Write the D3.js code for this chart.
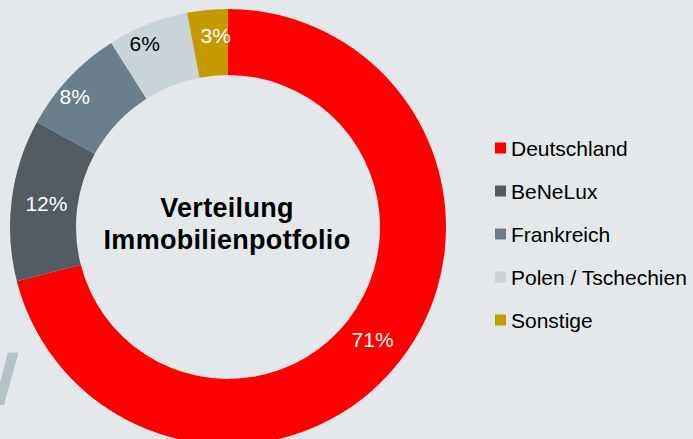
<!DOCTYPE html>
<html>
<head>
<meta charset="utf-8">
<script src="https://cdn.jsdelivr.net/npm/d3@7"></script>
<style>
  html, body { margin: 0; padding: 0; background: #e4e8eb; }
  svg { display: block; font-family: "Liberation Sans", Arial, sans-serif; }
</style>
</head>
<body>
<div id="chart"></div>
<script>
// data
var categories = ["Deutschland", "BeNeLux", "Frankreich", "Polen / Tschechien", "Sonstige"];
var shares = [71, 12, 8, 6, 3];
var labels = ["71%", "12%", "8%", "6%", "3%"];
var colors = ["#ff0000", "#545c63", "#6a7f8b", "#c8d3da", "#c49a00"];
var labelColors = ["#ffffff", "#ffffff", "#ffffff", "#000000", "#ffffff"];
var title = ["Verteilung", "Immobilienpotfolio"];

var width = 693, height = 439;
var cx = 228, cy = 227;
var outerR = 218, innerR = 152;

var svg = d3.select("#chart").append("svg")
    .attr("width", width)
    .attr("height", height);

svg.append("rect")
    .attr("width", width)
    .attr("height", height)
    .attr("fill", "#e4e8eb");

// decorative stroke bottom left
svg.append("path")
    .attr("d", "M8,352.5 L18.5,352.5 L4,405 L-6,405 Z")
    .attr("fill", "#b7c1c8");

var pie = d3.pie().sort(null).value(function(d) { return d; });
var arc = d3.arc().innerRadius(innerR).outerRadius(outerR);
// small slices get their labels pushed outward a little (best fit style)
var labelPos = function(d) {
    var r = d.data >= 10 ? 183 : (d.data >= 5 ? 201 : 192);
    var shift = d.data >= 10 ? 0 : (d.data >= 5 ? -0.05 : 0.03);
    var a = (d.startAngle + d.endAngle) / 2 + shift;
    return [r * Math.sin(a), -r * Math.cos(a)];
};

var arcs = pie(shares);

var g = svg.append("g").attr("transform", "translate(" + cx + "," + cy + ")");

g.selectAll(".slice").data(arcs).enter().append("path")
    .attr("class", "slice")
    .attr("d", arc)
    .attr("fill", function(d, i) { return colors[i]; });

g.selectAll(".lbl").data(arcs).enter().append("text")
    .attr("class", "lbl")
    .attr("transform", function(d) { return "translate(" + labelPos(d) + ")"; })
    .attr("text-anchor", "middle")
    .attr("dy", "0.35em")
    .attr("font-size", 21)
    .attr("fill", function(d, i) { return labelColors[i]; })
    .text(function(d, i) { return labels[i]; });

// title in the hole
g.selectAll(".title").data(title).enter().append("text")
    .attr("class", "title")
    .attr("x", -1)
    .attr("y", function(d, i) { return -10 + i * 31.6; })
    .attr("text-anchor", "middle")
    .attr("font-size", 27)
    .attr("font-weight", "bold")
    .attr("letter-spacing", 0.3)
    .attr("fill", "#000")
    .text(function(d) { return d; });

// legend
var legend = svg.append("g").attr("transform", "translate(495,148)");
var row = legend.selectAll(".leg").data(categories).enter().append("g")
    .attr("class", "leg")
    .attr("transform", function(d, i) { return "translate(0," + (i * 43) + ")"; });

row.append("rect")
    .attr("x", 0)
    .attr("y", -5.5)
    .attr("width", 11)
    .attr("height", 11)
    .attr("fill", function(d, i) { return colors[i]; });

row.append("text")
    .attr("x", 16)
    .attr("y", 7.5)
    .attr("font-size", 21)
    .attr("fill", "#000")
    .text(function(d) { return d; });
</script>
</body>
</html>
